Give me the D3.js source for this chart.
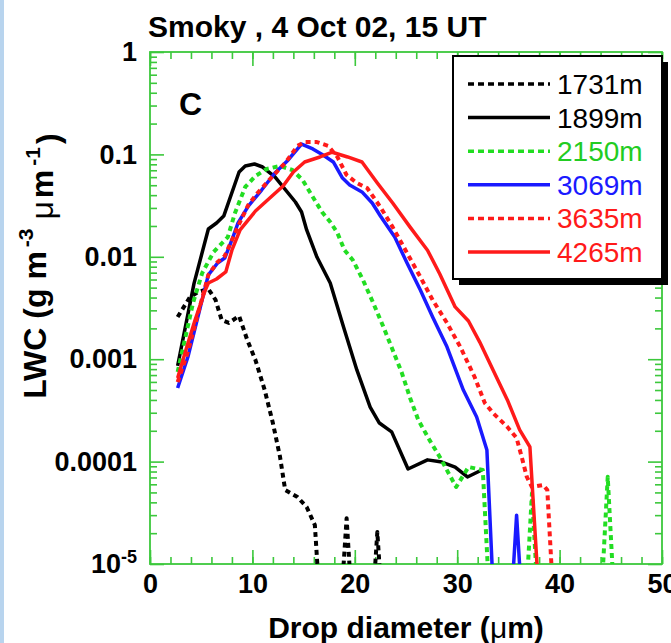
<!DOCTYPE html>
<html><head><meta charset="utf-8">
<script src="https://cdn.jsdelivr.net/npm/d3@7"></script>
<style>
body{margin:0;background:#fff;}
svg{display:block;font-family:"Liberation Sans",Arial,Helvetica,sans-serif;}
</style>
</head><body><svg id="c" width="671" height="643"></svg>
<script>
// ---- data (drop diameter in µm, LWC in g m^-3 µm^-1; 0 = no drops) ----
const diam1731 = [2.7,3.9,4.7,5.7,6.4,7.0,7.7,8.7,9.5,10.3,11.2,12.0,12.7,13.2,14.4,15.3,16.1,17.6,19.2,20.7,22.2,23.7];
const lwc1731  = [0.00258,0.00405,0.00453,0.00485,0.00379,0.00241,0.00226,0.00264,0.00154,9.8e-4,5.0e-4,2.38e-4,1.11e-4,5.28e-5,4.51e-5,3.6e-5,2.4e-5,0,2.8e-5,0,2.05e-5,0];

const diam1899 = [2.7,4.3,5.7,6.5,7.2,8.7,9.3,10.2,11.0,12.2,14.2,14.8,15.3,16.3,17.6,18.9,20.2,21.5,22.4,23.6,25.2,27.1,28.5,29.8,31.0,32.4];
const lwc1899  = [8.6e-4,0.0055,0.0187,0.0214,0.025,0.0673,0.077,0.0806,0.0753,0.0602,0.0343,0.0274,0.0183,0.00995,0.00555,0.00206,7.85e-4,3.41e-4,2.38e-4,1.95e-4,8.47e-5,1.04e-4,9.9e-5,8.85e-5,7.08e-5,8.28e-5];

const diam2150 = [2.7,4.2,5.1,6.2,7.6,8.3,9.3,10.3,11.4,12.7,13.9,14.9,15.9,16.8,17.6,18.3,19.0,19.8,20.8,21.8,22.8,23.7,24.6,25.4,26.2,27.3,28.3,29.1,29.9,31.1,32.5,34.0,35.8,37.3,38.8,43.2,44.7,46.2];
const lwc2150  = [7.5e-4,0.00354,0.00695,0.0111,0.0156,0.0268,0.0481,0.0615,0.072,0.0771,0.0704,0.0562,0.0384,0.0274,0.0219,0.0171,0.0116,0.0093,0.00593,0.00354,0.00206,0.00123,7.33e-4,4.18e-4,2.55e-4,1.62e-4,1.11e-4,7.9e-5,5.65e-5,8.85e-5,8.28e-5,0,0,4.9e-5,0,0,7.1e-5,0];

const diam3069 = [2.7,3.7,5.7,6.6,7.3,8.0,8.6,9.6,10.9,12.2,13.4,14.8,15.9,16.9,17.9,18.8,19.5,20.7,21.7,22.5,23.9,25.1,26.4,27.6,29.0,30.6,31.9,32.9,34.3,35.8,37.3];
const lwc3069  = [5.24e-4,0.00105,0.00665,0.0087,0.00973,0.0146,0.0214,0.0313,0.0449,0.0658,0.0862,0.126,0.113,0.0987,0.0843,0.0588,0.0503,0.043,0.0335,0.025,0.0156,0.0087,0.00474,0.00258,0.00132,5.0e-4,2.73e-4,1.3e-4,0,3.0e-5,0];

const diam3635 = [2.7,3.7,5.7,6.6,7.3,8.0,8.8,9.6,10.5,11.9,13.2,14.4,15.1,16.3,17.4,18.3,19.2,20.2,21.2,22.5,23.7,25.1,26.4,27.6,29.0,30.3,31.7,32.7,33.5,34.9,35.8,36.3,36.8,37.3,38.4,38.8,40.3];
const lwc3635  = [5.98e-4,0.00118,0.00665,0.0089,0.0102,0.0146,0.0219,0.0321,0.042,0.0601,0.0824,0.121,0.132,0.132,0.121,0.0944,0.0629,0.0526,0.047,0.0306,0.0195,0.0109,0.00635,0.00379,0.00226,0.00132,6.7e-4,3.73e-4,2.98e-4,2.18e-4,1.7e-4,1.11e-4,7.08e-5,5.65e-5,5.91e-5,5.28e-5,0];

const diam4265 = [2.7,3.6,4.4,5.4,5.7,6.5,7.4,8.0,8.8,10.3,11.7,13.0,14.0,15.1,16.6,17.8,19.3,20.7,22.2,23.7,25.4,27.1,28.3,29.8,31.1,32.2,33.5,34.9,36.1,37.1,39.0];
const lwc4265  = [6.55e-4,0.00132,0.00241,0.00474,0.00555,0.00607,0.00711,0.0116,0.0183,0.028,0.0375,0.0491,0.0673,0.0843,0.0944,0.105,0.0944,0.0843,0.0526,0.0335,0.0195,0.0116,0.0068,0.00324,0.00236,0.00147,7.85e-4,4.0e-4,2.04e-4,1.39e-4,0];

const seriesNames  = ["1731m","1899m","2150m","3069m","3635m","4265m"];
const seriesDiam   = [diam1731,diam1899,diam2150,diam3069,diam3635,diam4265];
const seriesLwc    = [lwc1731,lwc1899,lwc2150,lwc3069,lwc3635,lwc4265];
const seriesColors = ["#000000","#000000","#22dd22","#1a1aff","#ff1a1a","#ff1a1a"];
const seriesDashed = [true,false,true,false,true,false];

const xTicks = [0,10,20,30,40,50];
const yTicks = [1,0.1,0.01,0.001,0.0001,0.00001];
const yTickLabels = ["1","0.1","0.01","0.001","0.0001","10|-5"];

const titleText = "Smoky , 4 Oct 02, 15 UT";
const panelLabel = "C";

// ---- layout ----
const L = 150, T = 52, W = 512, H = 512;
const frameColor = "#3cc83c";
const svg = d3.select("#c");

// faint page edge at left
svg.append("rect").attr("x",0).attr("y",0).attr("width",4).attr("height",643).attr("fill","#b8d4ee");

const x = d3.scaleLinear().domain([0,50]).range([L, L+W]);
const y = d3.scaleLog().domain([1e-5,1]).range([T+H, T]);
const FLOOR = 1e-7;

svg.append("defs").append("clipPath").attr("id","clip")
  .append("rect").attr("x",L).attr("y",T).attr("width",W).attr("height",H);

// minor tick values
const xMinor = d3.range(0,51,2);
const yMinor = [];
for (let e=-5; e<0; e++) for (let m=2; m<10; m++) yMinor.push(m*Math.pow(10,e));

function styleAxis(g){
  g.select(".domain").remove();
  g.selectAll("line").attr("stroke",frameColor).attr("stroke-width",1.6);
}
// bottom
svg.append("g").attr("transform",`translate(0,${T+H})`)
  .call(d3.axisBottom(x).tickValues(xMinor).tickSize(-7).tickFormat("")).call(styleAxis);
const xb = svg.append("g").attr("transform",`translate(0,${T+H})`)
  .call(d3.axisBottom(x).tickValues(xTicks).tickSize(-14).tickPadding(10).tickFormat(d3.format("d")));
styleAxis(xb);
xb.selectAll("text").attr("font-size",27).attr("font-weight","bold").attr("fill","#000");
// top
svg.append("g").attr("transform",`translate(0,${T})`)
  .call(d3.axisTop(x).tickValues(xMinor).tickSize(-7).tickFormat("")).call(styleAxis);
svg.append("g").attr("transform",`translate(0,${T})`)
  .call(d3.axisTop(x).tickValues(xTicks).tickSize(-14).tickFormat("")).call(styleAxis);
// left
svg.append("g").attr("transform",`translate(${L},0)`)
  .call(d3.axisLeft(y).tickValues(yMinor).tickSize(-7).tickFormat("")).call(styleAxis);
const yl = svg.append("g").attr("transform",`translate(${L},0)`)
  .call(d3.axisLeft(y).tickValues(yTicks).tickSize(-14).tickPadding(13)
        .tickFormat((d,i)=>yTickLabels[i]));
styleAxis(yl);
yl.selectAll("text").attr("font-size",27).attr("font-weight","bold").attr("fill","#000")
  .each(function(d,i){
    const s = yTickLabels[i];
    if (s.includes("|")) {
      const [b,p] = s.split("|");
      const t = d3.select(this).text("");
      t.append("tspan").text(b);
      t.append("tspan").attr("dy","-0.55em").attr("font-size",18).text(p);
    }
  });
// right
svg.append("g").attr("transform",`translate(${L+W},0)`)
  .call(d3.axisRight(y).tickValues(yMinor).tickSize(-7).tickFormat("")).call(styleAxis);
svg.append("g").attr("transform",`translate(${L+W},0)`)
  .call(d3.axisRight(y).tickValues(yTicks).tickSize(-14).tickFormat("")).call(styleAxis);

// frame
svg.append("rect").attr("x",L).attr("y",T).attr("width",W).attr("height",H)
  .attr("fill","none").attr("stroke",frameColor).attr("stroke-width",1.8);

// lines
const line = d3.line()
  .x(d=>x(d[0]))
  .y(d=>y(d[1] > 0 ? d[1] : FLOOR));
const plot = svg.append("g").attr("clip-path","url(#clip)");
const order = [0,1,2,3,5,4];
order.forEach(i=>{
  const pts = seriesDiam[i].map((d,k)=>[d, seriesLwc[i][k]]);
  plot.append("path").datum(pts).attr("d",line)
    .attr("fill","none").attr("stroke",seriesColors[i])
    .attr("stroke-width", seriesDashed[i] ? 4 : 3.5)
    .attr("stroke-linejoin","round")
    .attr("stroke-dasharray", seriesDashed[i] ? "5,4" : null);
});

// panel label
svg.append("text").attr("x",179).attr("y",115).attr("font-size",32).attr("font-weight","bold").text(panelLabel);

// legend
const lg = svg.append("g");
const lx0 = 453, ly0 = 56, lw = 209, lh = 223;
lg.append("rect").attr("x",lx0+6).attr("y",ly0+6).attr("width",lw).attr("height",lh).attr("fill","#000");
lg.append("rect").attr("x",lx0).attr("y",ly0).attr("width",lw).attr("height",lh)
  .attr("fill","#fff").attr("stroke","#000").attr("stroke-width",2);
seriesNames.forEach((n,i)=>{
  const cy = 84 + i*33.6;
  lg.append("line").attr("x1",468).attr("x2",550).attr("y1",cy).attr("y2",cy)
    .attr("stroke",seriesColors[i]).attr("stroke-width",3.5)
    .attr("stroke-dasharray", seriesDashed[i] ? "6,4" : null);
  lg.append("text").attr("x",557).attr("y",cy+10).attr("font-size",28)
    .attr("fill", seriesColors[i]==="#22dd22" ? "#22cc22" : seriesColors[i]).text(n);
});

// title
svg.append("text").attr("x",148).attr("y",37).attr("font-size",30).attr("font-weight","bold").text(titleText);

// axis titles
const xt = svg.append("text").attr("x",L+W/2).attr("y",638).attr("text-anchor","middle")
  .attr("font-size",30).attr("font-weight","bold");
xt.append("tspan").text("Drop diameter (");
xt.append("tspan").attr("font-weight","normal").text("μ");
xt.append("tspan").text("m)");

const yt = svg.append("text").attr("transform",`translate(46,266) rotate(-90)`)
  .attr("text-anchor","middle").attr("font-size",32).attr("font-weight","bold");
yt.append("tspan").text("LWC (g m");
yt.append("tspan").attr("dx",4).attr("dy","-0.6em").attr("font-size",21).text("-3");
yt.append("tspan").attr("dy","0.6em").text("  ");
yt.append("tspan").attr("font-weight","normal").text("μ");
yt.append("tspan").attr("dx",3).text("m");
yt.append("tspan").attr("dx",4).attr("dy","-0.6em").attr("font-size",21).text("-1");
yt.append("tspan").attr("dx",3).attr("dy","0.6em").text(")");
</script>
</body></html>
